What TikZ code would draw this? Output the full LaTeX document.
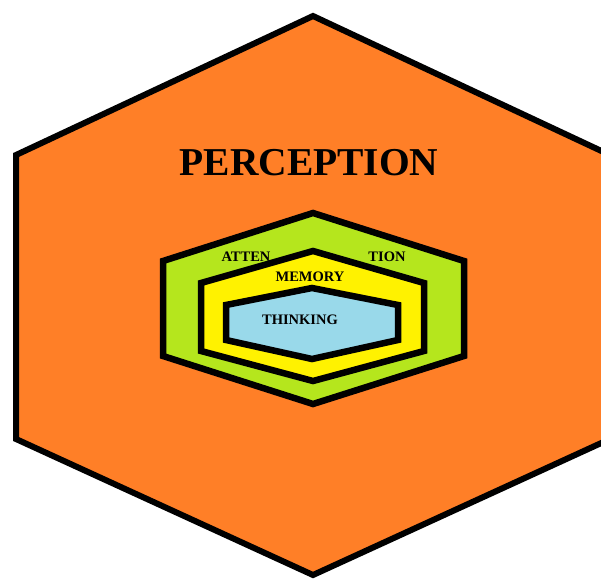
\documentclass[tikz,border=0pt]{standalone}
\usepackage{fontspec}
\setmainfont{Liberation Serif}
\definecolor{porange}{RGB}{255,127,39}
\definecolor{plime}{RGB}{181,230,29}
\definecolor{pyellow}{RGB}{255,242,0}
\definecolor{pblue}{RGB}{153,217,234}
\tikzset{
  hexa/.style={draw=black, line join=miter, line width=6.5pt},
  lbl/.style={font=\bfseries\fontsize{14.5pt}{16pt}\selectfont, inner sep=0pt, text=black},
}
\begin{document}
\begin{tikzpicture}[x=1pt,y=-1pt]
\useasboundingbox (0,0) rectangle (601,578);
\clip (0,0) rectangle (601,578);
\fill[white] (0,0) rectangle (601,578);
% outer hexagon
\draw[hexa, fill=porange, line width=6pt] (313,16) -- (610,155) -- (610,439) -- (313,575) -- (16,439) -- (16,155) -- cycle;
% attention
\draw[hexa, fill=plime] (313,213) -- (464,261) -- (464,356) -- (313,404) -- (163,356) -- (163,261) -- cycle;
% memory
\draw[hexa, fill=pyellow] (313,251) -- (424,283) -- (424,351) -- (313,381) -- (201,351) -- (201,283) -- cycle;
% thinking
\draw[hexa, fill=pblue] (312,288) -- (398,305) -- (398,340) -- (312,359) -- (226,340) -- (226,305) -- cycle;
\node[font=\bfseries\fontsize{39.5pt}{42pt}\selectfont, inner sep=0pt] (perception) at (309,163) {PERCEPTION};
\node[lbl] (atten) at (246,257) {ATTEN};
\node[lbl] (tion) at (387,257) {TION};
\node[lbl] (memory) at (310,277) {MEMORY};
\node[lbl] (thinking) at (300,320) {THINKING};
\end{tikzpicture}
\end{document}
